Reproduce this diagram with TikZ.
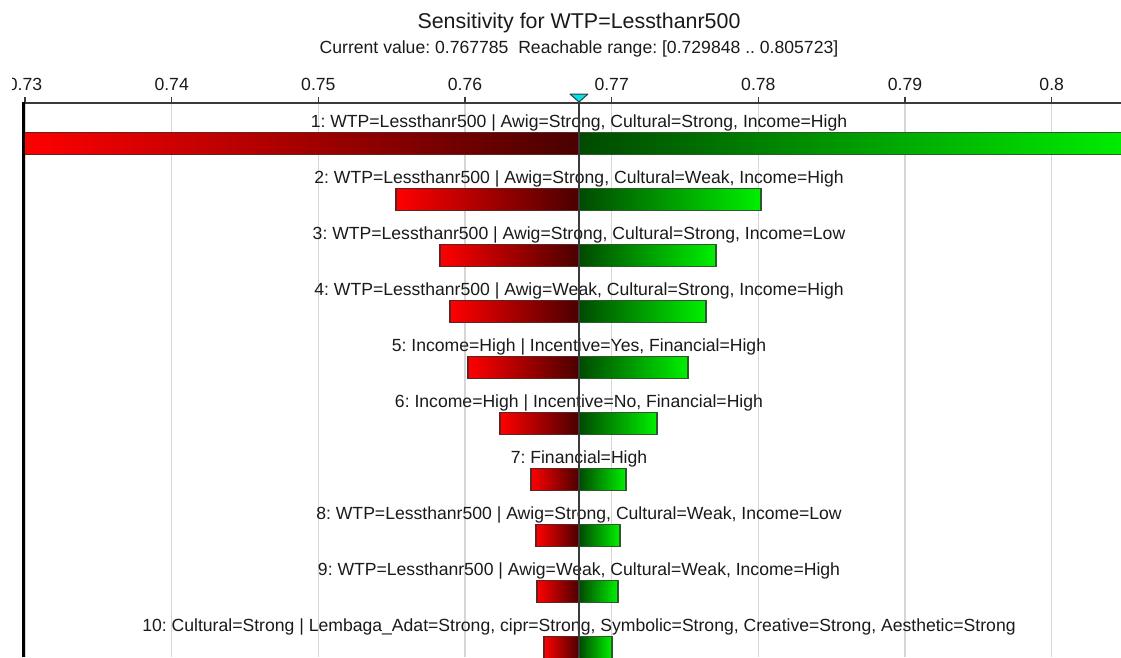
\documentclass[tikz,border=0pt]{standalone}
\usepackage{fontspec}
\setmainfont{Liberation Sans}
\frenchspacing
\definecolor{gridgray}{HTML}{D6D6D6}
\definecolor{axisgray}{HTML}{3A3A3A}
\definecolor{lowred}{HTML}{FF0000}
\definecolor{midred}{HTML}{4A0000}
\definecolor{midgreen}{HTML}{004A00}
\definecolor{highgreen}{HTML}{00F000}
\definecolor{rededge}{HTML}{5E2424}
\definecolor{greenedge}{HTML}{2C5A2C}
\definecolor{markcyan}{HTML}{00E3EC}
\definecolor{inkcol}{HTML}{1A1A1A}
\tikzset{
  gridline/.style={draw=gridgray, line width=1.5pt},
  tickmark/.style={draw=axisgray, line width=1.5pt},
  ticklabel/.style={anchor=base, inner sep=0pt, text=inkcol, font=\fontsize{17.6}{20}\selectfont},
  barlabel/.style={anchor=base, inner sep=0pt, text=inkcol, font=\fontsize{17.6}{20}\selectfont},
  lowbar/.style={left color=lowred, right color=midred, draw=rededge, line width=1.4pt},
  highbar/.style={left color=midgreen, right color=highgreen, draw=greenedge, line width=1.4pt},
  axisline/.style={draw=axisgray, line width=2pt},
}
\begin{document}
\begin{tikzpicture}[x=1pt, y=-1pt]
\useasboundingbox (0,0) rectangle (1121,657);
\clip (0,0) rectangle (1121,657);
\fill[white] (0,0) rectangle (1121,657);

% heading
\node[anchor=base, inner sep=0pt, text=inkcol, font=\fontsize{21.4}{24}\selectfont] (title) at (579,28) {Sensitivity for WTP=Lessthanr500};
\node[anchor=base, inner sep=0pt, text=inkcol, font=\fontsize{17.6}{20}\selectfont] (subtitle) at (579,53.3) {Current value: 0.767785\ \ Reachable range: [0.729848 .. 0.805723]};

% value grid and scale
\foreach \i in {0,...,7} {
  \pgfmathsetmacro\gx{25+146.67*\i}
  \draw[gridline] (\gx,103) -- (\gx,657);
  \draw[tickmark] (\gx,97) -- (\gx,103);
}
% the first scale label is cut by the plot frame on the left
\begin{scope}
  \clip (12,60) rectangle (100,100);
  \node[ticklabel] (tick0) at (25,90.7) {0.73};
\end{scope}
\foreach \i/\v in {1/0.74,2/0.75,3/0.76,4/0.77,5/0.78,6/0.79,7/0.8} {
  \pgfmathsetmacro\gx{25+146.67*\i}
  \node[ticklabel] (tick\i) at (\gx,90.7) {\v};
}

% tornado bars: low side in red, high side in green
\foreach \k/\a/\b in {1/23/1135,2/396/761,3/440/716,4/450/706,5/468/688,6/500/657,7/531/626,8/536/620,9/537/618,10/544/612} {
  \pgfmathsetmacro\yt{132.5+56*(\k-1)}
  \pgfmathsetmacro\yb{\yt+22}
  \path[lowbar] (\a,\yt) rectangle (579,\yb);
  \path[highbar] (579,\yt) rectangle (\b,\yb);
}

% bar captions
\foreach \k/\t in {
  1/{1: WTP=Lessthanr500 | Awig=Strong, Cultural=Strong, Income=High},
  2/{2: WTP=Lessthanr500 | Awig=Strong, Cultural=Weak, Income=High},
  3/{3: WTP=Lessthanr500 | Awig=Strong, Cultural=Strong, Income=Low},
  4/{4: WTP=Lessthanr500 | Awig=Weak, Cultural=Strong, Income=High},
  5/{5: Income=High | Incentive=Yes, Financial=High},
  6/{6: Income=High | Incentive=No, Financial=High},
  7/{7: Financial=High},
  8/{8: WTP=Lessthanr500 | Awig=Strong, Cultural=Weak, Income=Low},
  9/{9: WTP=Lessthanr500 | Awig=Weak, Cultural=Weak, Income=High},
  10/{10: Cultural=Strong | Lembaga\_Adat=Strong, cipr=Strong, Symbolic=Strong, Creative=Strong, Aesthetic=Strong}} {
  \node[barlabel] (cap\k) at (579,{127+56*(\k-1)}) {\t};
}

% axes
\draw[axisline] (23,102.7) -- (1121,102.7);
\draw[draw=black, line width=2.5pt] (23.3,101.5) -- (23.3,657);
\draw[axisline] (579,96) -- (579,657);

% current value marker
\coordinate (cur) at (579,102);
\filldraw[fill=markcyan, draw=axisgray, line width=1pt, line join=round]
  (cur) -- ++(-9,-8) -- ++(18,0) -- cycle;
\end{tikzpicture}
\end{document}
